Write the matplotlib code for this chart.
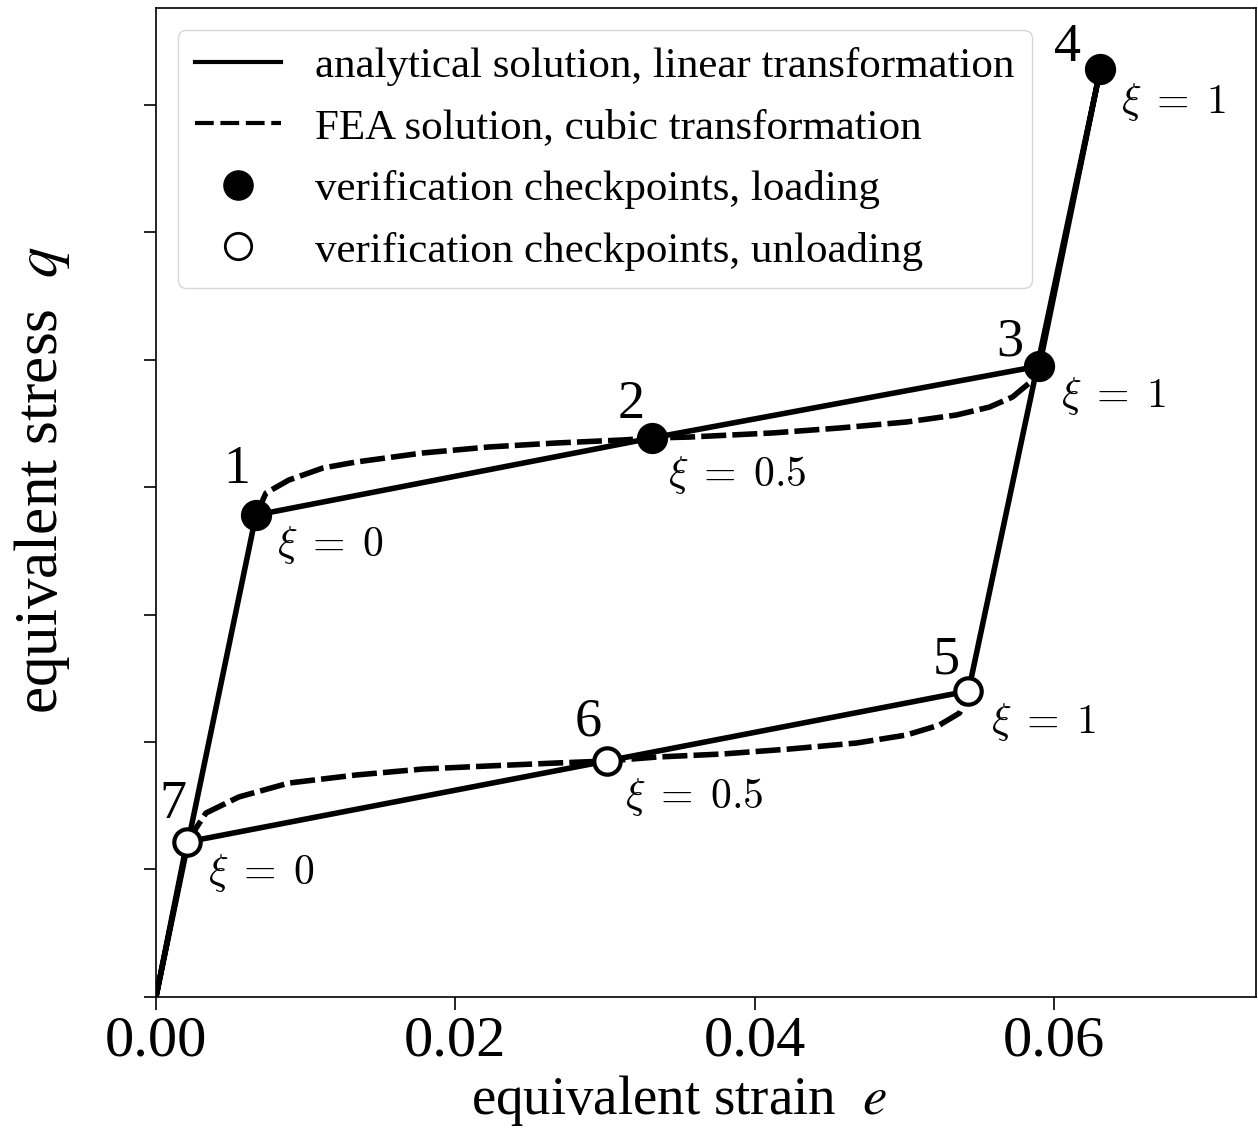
import matplotlib
matplotlib.use("Agg")
from matplotlib import pyplot as plt
from matplotlib.lines import Line2D

plt.rcParams['font.family'] = 'serif'
plt.rcParams['font.serif'] = ['Liberation Serif', 'DejaVu Serif']
plt.rcParams['mathtext.fontset'] = 'stix'

# checkpoints 1..7 (strain e, stress q)
point_ids = ['1', '2', '3', '4', '5', '6', '7']
strain_pts = [0.00668, 0.03312, 0.05903, 0.06310, 0.05429, 0.03012, 0.00207]
stress_pts = [3.780, 4.384, 4.949, 7.278, 2.400, 1.851, 1.216]
xi_vals = ['0', '0.5', '1', '1', '1', '0.5', '0']
loading = [True, True, True, True, False, False, False]

# analytical path: origin -> 1 -> 2 -> 3 -> 4 -> 5 -> 6 -> 7 -> origin
path_strain = [0.0] + strain_pts + [0.0]
path_stress = [0.0] + stress_pts + [0.0]

# FEA (cubic transformation)
fea_load_e = [0.00668, 0.00735, 0.00888, 0.01115, 0.01336, 0.01783, 0.02224,
              0.02671, 0.03119, 0.03312, 0.03566, 0.04120, 0.04568, 0.05015,
              0.05349, 0.05569, 0.05723, 0.05836, 0.05903]
fea_load_q = [3.780, 3.953, 4.055, 4.149, 4.196, 4.267, 4.314,
              4.345, 4.369, 4.384, 4.392, 4.424, 4.463, 4.510,
              4.565, 4.627, 4.706, 4.816, 4.949]
fea_unload_e = [0.00207, 0.00334, 0.00554, 0.00888, 0.01336, 0.01783, 0.02224,
                0.02671, 0.03012, 0.03346, 0.03786, 0.04234, 0.04681, 0.05015,
                0.05235, 0.05369, 0.05429]
fea_unload_q = [1.216, 1.443, 1.569, 1.678, 1.741, 1.788, 1.812,
                1.835, 1.851, 1.882, 1.906, 1.945, 1.992, 2.055,
                2.133, 2.227, 2.400]

# label offsets in pixels (number label, xi label)
num_off = [(-19, 45), (-20, 33), (-30, 24), (-33, 21), (-22, 31), (-19, 39), (-14, 37)]
xi_off = [(21, -30), (16, -37), (22, -30), (21, -33), (23, -31), (18, -36), (21, -31)]

fig = plt.figure(figsize=(12.58, 11.31), dpi=100)
ax = fig.add_axes([0.124, 0.1185, 0.8744, 0.8744])

lw = 4
dash = (0, (4.5, 1.1))
ax.plot(path_strain, path_stress, color='black', lw=lw, zorder=2)
ax.plot(fea_load_e, fea_load_q, color='black', lw=lw, ls=dash, zorder=2)
ax.plot(fea_unload_e, fea_unload_q, color='black', lw=lw, ls=dash, zorder=2)

for i in range(len(point_ids)):
    if loading[i]:
        ax.plot(strain_pts[i], stress_pts[i], 'o', ms=20, mfc='black',
                mec='black', mew=2.5, zorder=3)
    else:
        ax.plot(strain_pts[i], stress_pts[i], 'o', ms=19, mfc='white',
                mec='black', mew=3, zorder=3)
    ax.annotate(point_ids[i], (strain_pts[i], stress_pts[i]), xytext=num_off[i],
                textcoords='offset pixels', ha='center', va='center', fontsize=39)
    ax.annotate(r'$\xi\;=\;' + xi_vals[i] + '$', (strain_pts[i], stress_pts[i]),
                xytext=xi_off[i], textcoords='offset pixels', ha='left',
                va='center', fontsize=30, math_fontfamily='cm')

ax.set_xlim(0, 0.0735)
ax.set_ylim(0, 7.757)
ax.set_xticks([0.0, 0.02, 0.04, 0.06])
ax.set_xticklabels(['0.00', '0.02', '0.04', '0.06'])
ax.set_yticks(range(8))
ax.set_yticklabels([])
ax.tick_params(axis='x', labelsize=42, length=9, width=1.2, pad=4)
ax.tick_params(axis='y', length=9, width=1.2)
for s in ax.spines.values():
    s.set_linewidth(1.2)

ax.set_xlabel(r'equivalent strain  $e$', fontsize=39.5, labelpad=4)
ax.set_ylabel(r'equivalent stress  $q$', fontsize=44, labelpad=48)
ax.xaxis.label.set_x(0.4755)
ax.yaxis.label.set_y(0.5228)

handles = [
    Line2D([], [], color='black', lw=3),
    Line2D([], [], color='black', lw=3, ls=(0, (4.5, 1.6))),
    Line2D([], [], ls='none', marker='o', ms=21, mfc='black', mec='black'),
    Line2D([], [], ls='none', marker='o', ms=19, mfc='white', mec='black', mew=2),
]
labels = ['analytical solution, linear transformation',
          'FEA solution, cubic transformation',
          'verification checkpoints, loading',
          'verification checkpoints, unloading']
ax.legend(handles, labels, loc='upper left', fontsize=31, labelspacing=0.52,
          edgecolor='#cccccc', fancybox=True)

fig.savefig('out.png', dpi=100)
